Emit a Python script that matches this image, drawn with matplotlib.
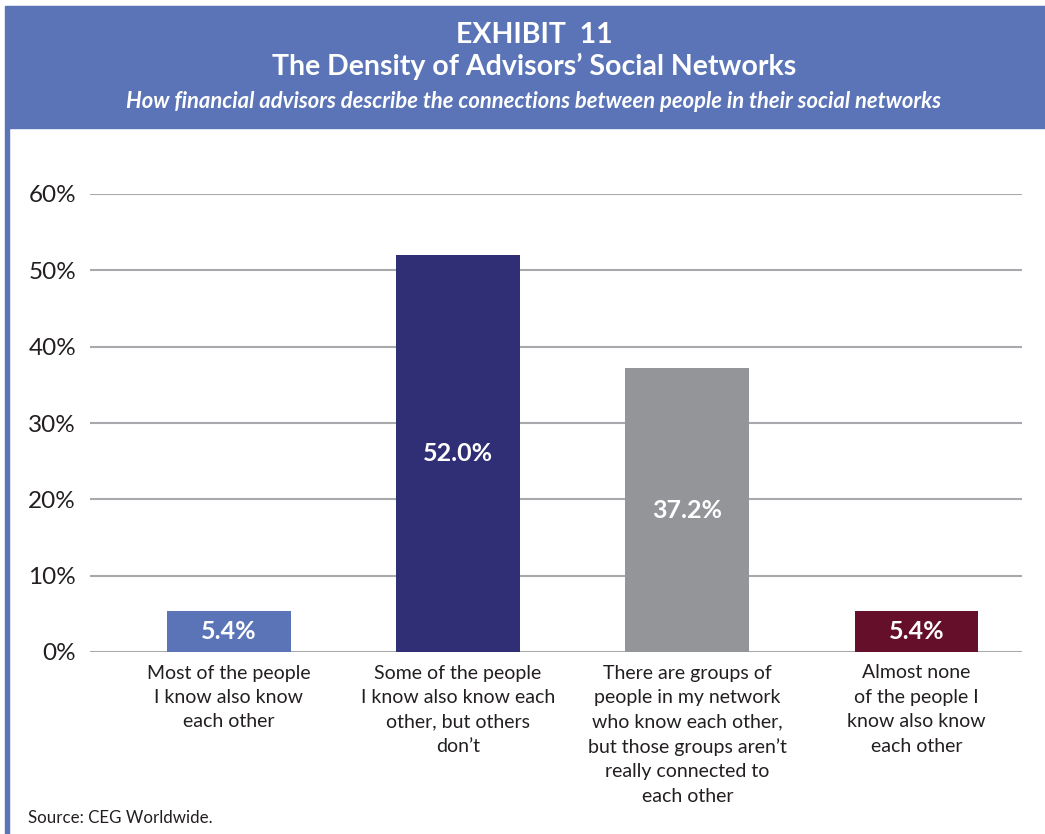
import numpy as np
import matplotlib.pyplot as plt

# Data
categories = [
    "Most of the people\nI know also know\neach other",
    "Some of the people\nI know also know each\nother, but others\ndon\u2019t",
    "There are groups of\npeople in my network\nwho know each other,\nbut those groups aren\u2019t\nreally connected to\neach other",
    "Almost none\nof the people I\nknow also know\neach other",
]
values = [5.4, 52.0, 37.2, 5.4]
bar_colors = ["#5A74B7", "#302F76", "#939598", "#650F2A"]
yticks = [0, 10, 20, 30, 40, 50, 60]

plt.rcParams['font.family'] = ['Lato', 'DejaVu Sans']

fig = plt.figure(figsize=(10.45, 8.34), dpi=100)
fig.patch.set_facecolor("white")

# Header band and left border
band = "#5A74B7"
fig.patches.append(plt.Rectangle((5 / 1045, 1 - 128 / 834), 1, 122 / 834,
                                 transform=fig.transFigure, color=band, zorder=0))
fig.patches.append(plt.Rectangle((5 / 1045, 0), 4 / 1045, 1 - 128 / 834,
                                 transform=fig.transFigure, color=band, zorder=0))

fig.text(534 / 1045, 1 - 35 / 834, "EXHIBIT  11", ha='center', va='center',
         color='white', fontsize=20.5, fontweight='bold')
fig.text(534 / 1045, 1 - 66 / 834, "The Density of Advisors\u2019 Social Networks",
         ha='center', va='center', color='white', fontsize=20.5, fontweight='bold')
fig.text(534 / 1045, 1 - 102 / 834,
         "How financial advisors describe the connections between people in their social networks",
         ha='center', va='center', color='white', fontsize=15.8, fontweight='bold',
         style='italic')

ax = fig.add_axes([90 / 1045, 1 - 652 / 834, (1022 - 90) / 1045, (652 - 194) / 834])
x = np.arange(len(values))
ax.bar(x, values, width=0.54, color=bar_colors, zorder=3)

for xi, v in zip(x, values):
    ax.text(xi, v / 2, f"{v:.1f}%", ha='center', va='center', color='white',
            fontsize=18, fontweight='bold', zorder=4)

ax.set_xlim(-0.605, 3.46)
ax.set_ylim(0, 60)
ax.set_yticks(yticks)
ax.set_yticklabels([f"{t}%" for t in yticks], fontsize=17.5, color='#231F20')
ax.yaxis.grid(True, color='#A7A9AC', linewidth=1.5, zorder=0)
ax.tick_params(axis='y', length=0, pad=10)
ax.set_xticks(x)
ax.set_xticklabels(categories, fontsize=14, color='#231F20', linespacing=1.53, va='top')
ax.tick_params(axis='x', length=0, pad=9)
for s in ax.spines.values():
    s.set_visible(False)

fig.text(28 / 1045, 1 - 818 / 834, "Source: CEG Worldwide.", ha='left', va='center',
         fontsize=12.2, color='#231F20')

fig.savefig("out.png", dpi=100)
